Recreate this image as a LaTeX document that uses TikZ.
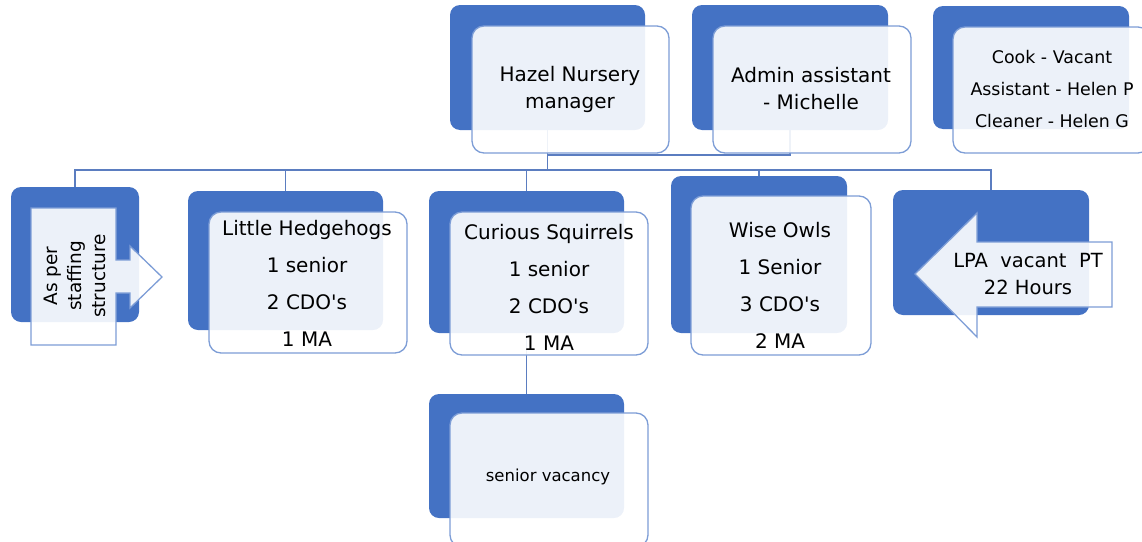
\documentclass[tikz,border=0pt]{standalone}
\usepackage{fontspec}
\setmainfont{DejaVu Sans}
\begin{document}
\begin{tikzpicture}[x=1pt,y=-1pt,
  back/.style={draw=none,fill=darkblue,rounded corners=10pt,inner sep=0pt},
  front/.style={draw=edgeblue,line width=1.3pt,fill=white,fill opacity=0.9,text opacity=1,rounded corners=12pt,inner sep=0pt},
  arrowbox/.style={draw=edgeblue,line width=1.3pt,fill=white,fill opacity=0.9},
  conn/.style={draw=lineblue,line width=1.6pt},
  label/.style={align=center,inner sep=0pt,text=black,font=\fontsize{20}{37}\selectfont},
  boxsize/.style n args={2}{minimum width=#1,minimum height=#2}]
\definecolor{darkblue}{HTML}{4472C4}
\definecolor{edgeblue}{HTML}{7D9DD6}
\definecolor{lineblue}{HTML}{5B7DC0}
\useasboundingbox (0,0) rectangle (1142,541);

% dark back plates
\node[back,boxsize={195pt}{125pt}] (mgrB) at (547.5,67.5) {};
\node[back,boxsize={196pt}{125pt}] (admB) at (790,67.5) {};
\node[back,boxsize={196pt}{123pt}] (ckB)  at (1031,67.5) {};
\node[back,boxsize={128pt}{135pt}] (asB)  at (75,254.5) {};
\node[back,boxsize={195pt}{139pt}] (lhB)  at (285.5,260.5) {};
\node[back,boxsize={195pt}{142pt}] (csB)  at (526.5,262) {};
\node[back,boxsize={176pt}{157pt}] (woB)  at (759,254.5) {};
\node[back,boxsize={196pt}{125pt}] (lpaB) at (991,252.5) {};
\node[back,boxsize={195pt}{124pt}] (svB)  at (526.5,456) {};

% connectors
\coordinate (bus) at (548,170);
\coordinate (abus) at (548,155);
\draw[conn] (mgrB.south) -- (mgrB.south |- bus);
\draw[conn] (abus) -| (admB.south);
\draw[conn] (asB.north) |- (lpaB.north |- bus) -- (lpaB.north);
\draw[conn] (lhB.north) -- (lhB.north |- bus);
\draw[conn] (csB.north) -- (csB.north |- bus);
\draw[conn] (woB.north) -- (woB.north |- bus);
\draw[conn] (csB.south) -- (svB.north);

% translucent front cards
\node[front,boxsize={197pt}{127pt}] (mgr) at (570.5,89.5) {};
\node[front,boxsize={198pt}{127pt}] (adm) at (812,89.5) {};
\node[front,boxsize={197pt}{126pt}] (ck)  at (1051.5,90) {};
\node[front,boxsize={198pt}{141pt}] (lh)  at (308,282.5) {};
\node[front,boxsize={198pt}{143pt}] (cs)  at (549,283.5) {};
\node[front,boxsize={180pt}{159pt}] (wo)  at (781,275.5) {};
\node[front,boxsize={198pt}{134pt}] (sv)  at (549,480) {};

% arrow-shaped cards
\path[arrowbox] (31,208) -- (116,208) -- (116,260) -- (130,260) -- (130,246)
  -- (162,277) -- (130,308) -- (130,293) -- (116,293) -- (116,345) -- (31,345) -- cycle;
\path[arrowbox] (915,274) -- (977,213) -- (977,242) -- (1112,242) -- (1112,307)
  -- (977,307) -- (977,337) -- cycle;

% texts
\node[label,font=\fontsize{20}{27}\selectfont] (mgrT) at (570,89) {Hazel Nursery\\manager};
\node[label,font=\fontsize{20}{27}\selectfont] (admT) at (811,88.5) {Admin assistant\\- Michelle};
\node[label,font=\fontsize{17.4}{32}\selectfont] (ckT) at (1052,89) {Cook - Vacant\\Assistant - Helen P\\Cleaner - Helen G};
\node[label,font=\fontsize{18.5}{24}\selectfont,rotate=90] (asT) at (75,276) {As per\\staffing\\structure};
\node[label] (lhT) at (307,283.5) {Little Hedgehogs\\1 senior\\2 CDO\textquotesingle s\\1 MA};
\node[label] (csT) at (549,287.5) {Curious Squirrels\\1 senior\\2 CDO\textquotesingle s\\1 MA};
\node[label] (woT) at (780,285) {Wise Owls\\1 Senior\\3 CDO\textquotesingle s\\2 MA};
\node[label,font=\fontsize{19.5}{27}\selectfont] (lpaT) at (1028,274) {LPA\ \ vacant\ \ PT\\22 Hours};
\node[label,font=\fontsize{16.5}{18}\selectfont] (svT) at (548,477) {senior vacancy};
\end{tikzpicture}
\end{document}
